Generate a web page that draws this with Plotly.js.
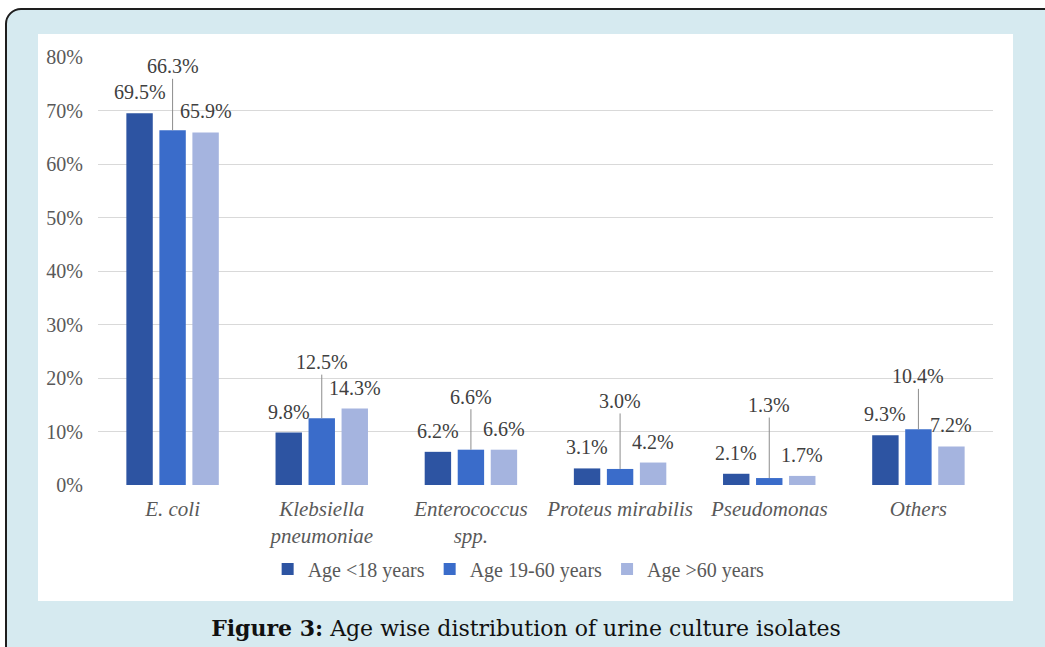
<!DOCTYPE html>
<html>
<head>
<meta charset="utf-8">
<script src="https://cdn.plot.ly/plotly-3.0.1.min.js"></script>
<style>
  html, body { margin: 0; padding: 0; width: 1045px; height: 647px; overflow: hidden; background: #ffffff; }
  #frame {
    position: absolute; left: 5px; top: 8px; width: 1120px; height: 700px;
    border: 2px solid #1e1e1e; border-top-left-radius: 16px; border-bottom-left-radius: 16px;
    background: #d6eaf0;
  }
  #chart { position: absolute; left: 38px; top: 34px; width: 975px; height: 567px; background: #ffffff; }
  #caption {
    position: absolute; left: 0; width: 1052px; top: 613px; text-align: center;
    font-family: "DejaVu Serif", serif; font-size: 22px; color: #111111; line-height: 30px;
  }
</style>
</head>
<body>
<div id="frame"></div>
<div id="chart"></div>
<div id="caption"><b>Figure 3:</b> Age wise distribution of urine culture isolates</div>
<script>
// ---- data ----
const categories = ["E. coli", "Klebsiella<br>pneumoniae", "Enterococcus<br>spp.", "Proteus mirabilis", "Pseudomonas", "Others"];
const seriesNames = ["Age <18 years", "Age 19-60 years", "Age >60 years"];
const ageUnder18 = [69.5, 9.8, 6.2, 3.1, 2.1, 9.3];
const age19to60 = [66.3, 12.5, 6.6, 3.0, 1.3, 10.4];
const ageOver60 = [65.9, 14.3, 6.6, 4.2, 1.7, 7.2];
const yTicks = [0, 10, 20, 30, 40, 50, 60, 70, 80];

// ---- style / layout ----
const colors = ["#2d54a2", "#3a6cca", "#a5b4df"];
const midLabelLift = [64, 56, 53, 68, 73, 53]; // leader-line lengths (px) for middle series labels
const bargap = 0.336;
const serif = "Liberation Serif, Times New Roman, serif";
const labelColor = "#404040";
const tickColor = "#595959";

const allSeries = [ageUnder18, age19to60, ageOver60];
const traces = allSeries.map((vals, s) => ({
  type: "bar",
  name: seriesNames[s],
  x: categories,
  y: vals,
  marker: { color: colors[s], line: { width: 0 } },
  hoverinfo: "skip"
}));

const pitch = (1 - bargap) / 3;
const annotations = [];
allSeries.forEach((vals, s) => {
  vals.forEach((v, i) => {
    const base = {
      x: i + (s - 1) * pitch,
      y: v,
      xref: "x", yref: "y",
      text: v.toFixed(1) + "%",
      font: { family: serif, size: 20, color: labelColor }
    };
    if (s === 1) {
      Object.assign(base, {
        showarrow: true, arrowhead: 0, arrowwidth: 1, arrowcolor: "#8c8c8c",
        ax: 0, ay: -midLabelLift[i], standoff: 0
      });
    } else {
      Object.assign(base, { showarrow: false, yanchor: "bottom", yshift: 8 });
    }
    annotations.push(base);
  });
});

const layout = {
  width: 975, height: 567,
  margin: { l: 60, r: 20, t: 23, b: 116 },
  paper_bgcolor: "#ffffff",
  plot_bgcolor: "#ffffff",
  barmode: "group",
  bargap: bargap,
  bargroupgap: 0.2,
  showlegend: true,
  legend: {
    orientation: "h", x: 0.47, xanchor: "center", y: -0.196, yanchor: "middle",
    font: { family: serif, size: 20, color: tickColor },
    itemwidth: 30, traceorder: "normal"
  },
  xaxis: {
    type: "category",
    tickfont: { family: serif, size: 21, color: tickColor, style: "italic" },
    showgrid: false, showline: false, zeroline: false, ticks: "",
    ticklabelstandoff: 9
  },
  yaxis: {
    range: [0, 80],
    tickvals: yTicks,
    ticktext: yTicks.map(t => t + "%"),
    tickfont: { family: serif, size: 20, color: tickColor },
    showgrid: true, gridcolor: "#d9d9d9", gridwidth: 1,
    zeroline: false, showline: false, ticks: "",
    ticklabelstandoff: 14
  },
  annotations: annotations
};

Plotly.newPlot("chart", traces, layout, { displayModeBar: false, staticPlot: true });
</script>
</body>
</html>
